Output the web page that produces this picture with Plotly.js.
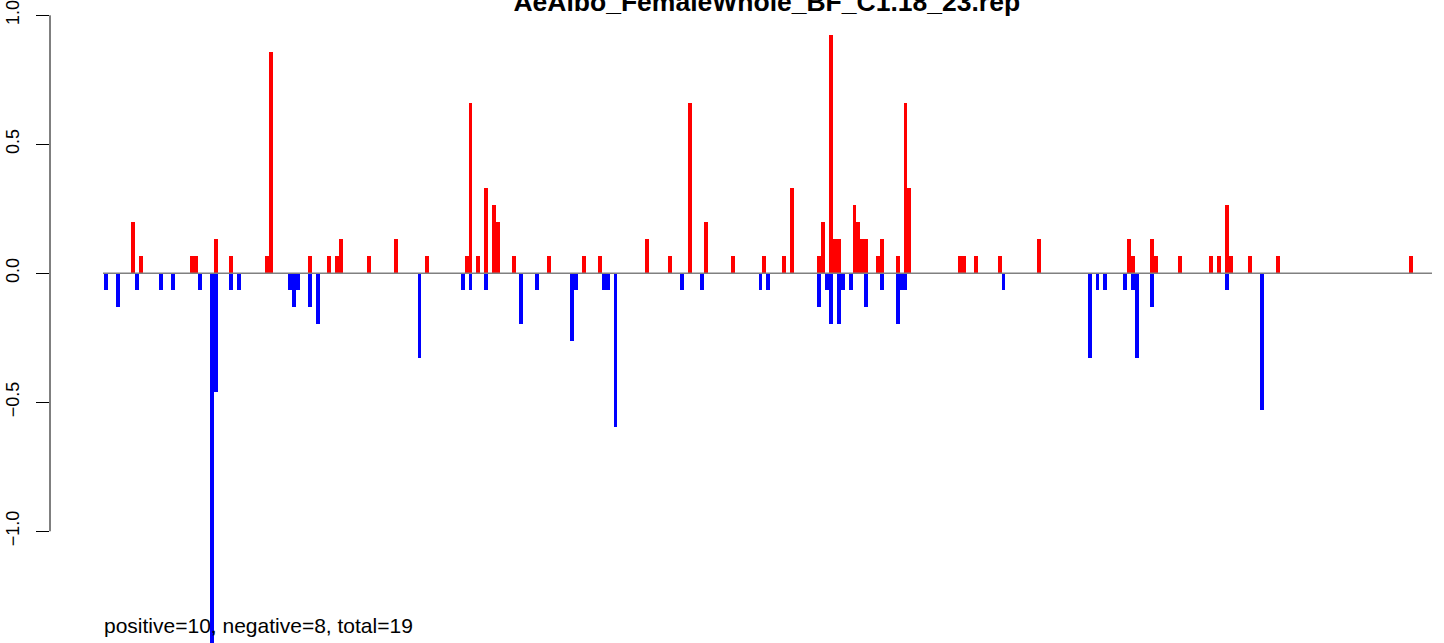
<!DOCTYPE html>
<html>
<head>
<meta charset="utf-8">
<script src="https://cdn.plot.ly/plotly-3.0.1.min.js"></script>
<style>
  html, body { margin: 0; padding: 0; background: #ffffff; }
  #chart { width: 1444px; height: 643px; }
</style>
</head>
<body>
<div id="chart"></div>
<script>
// ---- data (positions along the repeat, normalised signal) ----
const chartTitle = 'AeAlbo_FemaleWhole_BF_C1.18_23.rep';
const summaryText = 'positive=10, negative=8, total=19';

const positivePositions = [8, 10, 23, 24, 29, 33, 42, 43, 53, 58, 60, 61, 68, 75, 83, 93, 94, 96, 98, 100, 101, 105, 114, 123, 127, 139, 145, 150, 154, 161, 169, 174, 176, 183, 184, 186, 187, 188, 192, 193, 194, 195, 198, 199, 203, 205, 206, 219, 220, 223, 229, 239, 262, 263, 268, 269, 275, 283, 285, 287, 288, 293, 300, 334];
const positiveValues = [0.198, 0.066, 0.066, 0.066, 0.132, 0.066, 0.066, 0.858, 0.066, 0.066, 0.066, 0.132, 0.066, 0.132, 0.066, 0.066, 0.66, 0.066, 0.33, 0.264, 0.198, 0.066, 0.066, 0.066, 0.066, 0.132, 0.066, 0.66, 0.198, 0.066, 0.066, 0.066, 0.33, 0.066, 0.198, 0.924, 0.132, 0.132, 0.264, 0.198, 0.132, 0.132, 0.066, 0.132, 0.066, 0.66, 0.33, 0.066, 0.066, 0.066, 0.066, 0.132, 0.132, 0.066, 0.132, 0.066, 0.066, 0.066, 0.066, 0.264, 0.066, 0.066, 0.066, 0.066];

const negativePositions = [1, 4, 9, 15, 18, 25, 28, 29, 33, 35, 48, 49, 50, 53, 55, 81, 92, 94, 98, 107, 111, 120, 121, 128, 129, 131, 148, 153, 168, 170, 183, 185, 186, 188, 189, 191, 195, 199, 203, 204, 205, 230, 252, 254, 256, 261, 263, 264, 268, 287, 296];
const negativeValues = [-0.066, -0.132, -0.066, -0.066, -0.066, -0.066, -1.452, -0.462, -0.066, -0.066, -0.066, -0.132, -0.066, -0.132, -0.198, -0.33, -0.066, -0.066, -0.066, -0.198, -0.066, -0.264, -0.066, -0.066, -0.066, -0.594, -0.066, -0.066, -0.066, -0.066, -0.132, -0.066, -0.198, -0.198, -0.066, -0.066, -0.132, -0.066, -0.198, -0.066, -0.066, -0.066, -0.33, -0.066, -0.066, -0.066, -0.066, -0.33, -0.132, -0.066, -0.528];

const yTickValues = [-1, -0.5, 0, 0.5, 1];
const yTickLabels = ['\u22121.0', '\u22120.5', '0.0', '0.5', '1.0'];

// ---- styling ----
const FONT = 'Liberation Sans, Arial, Helvetica, sans-serif';

const traces = [
  {
    type: 'bar',
    x: positivePositions,
    y: positiveValues,
    width: 1,
    marker: { color: '#ff0000', line: { width: 0 } },
    hoverinfo: 'x+y',
    showlegend: false
  },
  {
    type: 'bar',
    x: negativePositions,
    y: negativeValues,
    width: 1,
    marker: { color: '#0000ff', line: { width: 0 } },
    hoverinfo: 'x+y',
    showlegend: false
  }
];

const layout = {
  width: 1444,
  height: 643,
  margin: { l: 50, r: 12, t: 0, b: 0, pad: 0 },
  paper_bgcolor: '#ffffff',
  plot_bgcolor: '#ffffff',
  barmode: 'overlay',
  bargap: 0,
  font: { family: FONT, color: '#000000' },
  title: {
    text: chartTitle,
    font: { family: FONT, size: 26.5, color: '#000000', weight: 'bold' },
    xref: 'container', x: 0.531, xanchor: 'center',
    yref: 'container', y: 0.998, yanchor: 'middle'
  },
  xaxis: {
    range: [-13.29, 339.35],
    visible: false,
    showgrid: false,
    zeroline: false,
    fixedrange: true
  },
  yaxis: {
    range: [-1.433, 1.0593],
    tickmode: 'array',
    tickvals: yTickValues,
    ticktext: yTickLabels,
    tickangle: -90,
    ticks: 'outside',
    ticklen: 13,
    tickwidth: 1,
    tickcolor: '#000000',
    tickfont: { family: FONT, size: 18, color: '#000000' },
    ticklabelstandoff: 10,
    showline: false,
    showgrid: false,
    zeroline: false,
    fixedrange: true,
    automargin: false
  },
  shapes: [
    { type: 'line', xref: 'paper', yref: 'y', x0: 0, x1: 0, y0: -1, y1: 1,
      line: { color: '#000000', width: 1 }, layer: 'above' },
    { type: 'line', xref: 'x', yref: 'y', x0: 0.234, x1: 339.35, y0: 0, y1: 0,
      line: { color: '#808080', width: 1.5 }, layer: 'above' }
  ],
  annotations: [
    { text: summaryText, xref: 'paper', yref: 'paper', x: 0.0377, y: 0.027,
      xanchor: 'left', yanchor: 'middle', showarrow: false,
      font: { family: FONT, size: 21, color: '#000000' } }
  ]
};

Plotly.newPlot('chart', traces, layout, { displayModeBar: false, staticPlot: true });
</script>
</body>
</html>
